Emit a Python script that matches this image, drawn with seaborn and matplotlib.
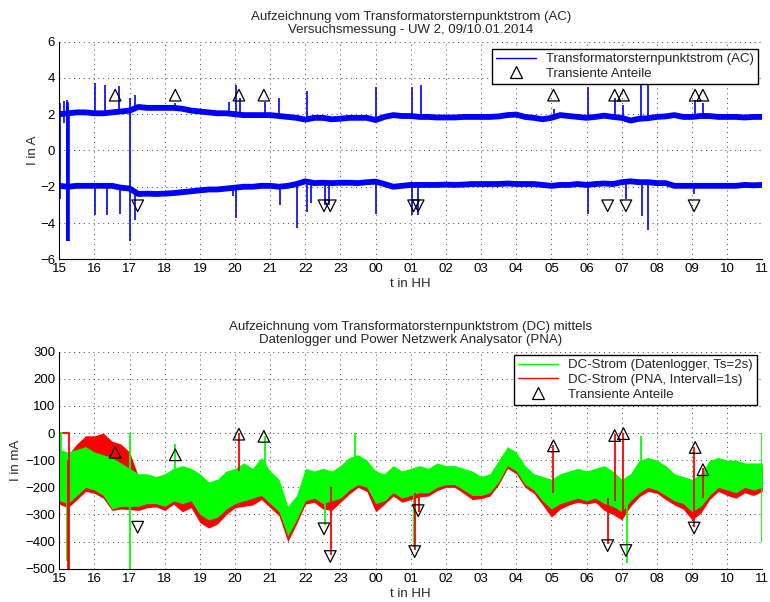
import numpy as np
import pandas as pd
import matplotlib
matplotlib.use("Agg")
import matplotlib.pyplot as plt
from matplotlib.lines import Line2D
import seaborn as sns

# ---------------- data ----------------
t_grid = [15.0 + 0.25 * i for i in range(81)]
hour_ticks = list(range(15, 36))
hour_labels = ["15", "16", "17", "18", "19", "20", "21", "22", "23", "00", "01",
               "02", "03", "04", "05", "06", "07", "08", "09", "10", "11"]

ac_upper = [2.0, 2.05, 2.1, 2.1, 2.05, 2.05, 2.1, 2.15, 2.2, 2.4, 2.35, 2.35, 2.35,
            2.35, 2.3, 2.2, 2.15, 2.1, 2.05, 2.05, 2.0, 1.95, 1.95, 1.95, 1.95, 1.9,
            1.85, 1.8, 1.7, 1.8, 1.8, 1.72, 1.75, 1.8, 1.8, 1.8, 1.68, 1.85, 1.95,
            1.9, 1.9, 1.85, 1.85, 1.82, 1.82, 1.82, 1.85, 1.85, 1.85, 1.85, 1.88,
            1.95, 1.98, 1.85, 1.8, 1.72, 1.8, 1.95, 1.9, 1.85, 1.8, 1.85, 1.92,
            1.85, 1.8, 1.65, 1.75, 1.78, 1.85, 1.88, 1.95, 1.85, 1.85, 1.9, 1.9,
            1.85, 1.85, 1.85, 1.82, 1.85, 1.85]
ac_lower = [-1.95, -2.0, -1.95, -1.95, -1.95, -1.95, -1.95, -2.05, -2.1, -2.4, -2.38,
            -2.4, -2.38, -2.35, -2.3, -2.25, -2.2, -2.15, -2.15, -2.1, -2.05, -2.0,
            -2.0, -1.95, -1.95, -2.0, -1.95, -1.85, -1.7, -1.8, -1.78, -1.8, -1.78,
            -1.78, -1.8, -1.75, -1.72, -1.85, -2.0, -1.95, -1.9, -1.9, -1.9, -1.9,
            -1.88, -1.9, -1.88, -1.85, -1.85, -1.85, -1.85, -1.82, -1.85, -1.85,
            -1.85, -1.9, -1.95, -1.9, -1.9, -1.85, -1.9, -1.85, -1.82, -1.85, -1.75,
            -1.7, -1.75, -1.75, -1.8, -1.8, -1.95, -1.95, -1.95, -1.95, -1.95,
            -1.95, -1.95, -1.95, -1.9, -1.92, -1.9]

ac_spike_t = [15.03, 15.12, 15.21, 15.22, 15.23, 15.24, 15.25, 15.26, 15.27, 16.03,
              16.31, 16.69, 17.0, 17.14, 18.3,
              19.82, 20.04, 20.15, 20.85, 21.24, 22.04, 24.02, 25.04, 25.28, 29.06,
              30.03, 30.8, 31.05, 31.56, 31.75, 33.09, 33.31,
              16.03, 16.35, 16.72, 17.16, 19.95, 20.04, 21.28, 21.76, 22.04, 22.15,
              22.55, 22.68, 24.02, 25.04, 25.2, 30.03, 31.12, 31.58, 31.75, 33.06]
ac_spike_lo = [-2.7, 1.5, -5.0, -5.0, -5.0, -5.0, -5.0, -5.0, -5.0, 2.0,
               2.0, 2.05, -5.0, 2.3, 2.3,
               1.95, 1.9, 1.9, 1.9, 1.9, 1.6, 1.6, 1.8, 1.8, 1.9,
               1.7, 1.85, 1.6, 1.7, 1.7, 1.8, 1.8,
               -3.55, -3.55, -3.5, -3.85, -2.5, -3.7, -3.0, -4.25, -3.4, -2.9,
               -3.0, -3.0, -3.5, -3.55, -3.55, -3.5, -2.7, -3.6, -4.4, -2.4]
ac_spike_hi = [2.6, 2.75, 2.8, 2.6, 2.5, 2.7, 2.4, 2.3, 2.2, 3.7,
               3.6, 3.55, 2.9, 3.05, 2.6,
               2.65, 3.6, 2.9, 2.7, 2.9, 3.3, 3.5, 3.5, 3.6, 2.3,
               3.5, 2.9, 2.5, 3.6, 3.8, 2.8, 2.6,
               -2.0, -2.0, -2.0, -2.3, -2.1, -2.0, -1.95, -1.9, -1.7, -1.8,
               -1.8, -1.8, -1.7, -1.9, -1.9, -1.85, -1.7, -1.75, -1.75, -1.95]

ac_tri_up_t = [16.59, 18.30, 20.11, 20.82, 29.06, 30.80, 31.05, 33.09, 33.31]
ac_tri_up_y = [3.05] * 9
ac_tri_dn_t = [17.23, 22.53, 22.71, 25.08, 25.21, 30.60, 31.12, 33.06]
ac_tri_dn_y = [-3.05] * 8

green_hi = [-60, -70, -60, -50, -70, -80, -90, -110, -130, -150, -150, -160, -150,
            -130, -120, -130, -150, -180, -170, -140, -130, -110, -130, -90, -140,
            -170, -270, -230, -130, -140, -130, -140, -120, -90, -80, -100, -140,
            -150, -120, -140, -130, -120, -130, -110, -120, -120, -130, -140, -160,
            -150, -100, -50, -70, -120, -150, -160, -170, -150, -140, -130, -140,
            -130, -120, -140, -170, -150, -100, -90, -100, -120, -150, -160, -170,
            -150, -100, -90, -100, -100, -110, -110, -110]
green_lo = [-250, -260, -230, -200, -210, -230, -280, -270, -270, -270, -260, -260,
            -270, -250, -260, -250, -300, -320, -310, -280, -260, -250, -240, -230,
            -260, -290, -380, -320, -250, -240, -260, -250, -240, -210, -190, -200,
            -260, -250, -220, -240, -230, -220, -220, -200, -190, -190, -210, -230,
            -230, -220, -180, -120, -140, -190, -210, -250, -280, -260, -250, -240,
            -250, -240, -260, -270, -290, -250, -220, -200, -210, -230, -250, -260,
            -290, -270, -230, -200, -210, -220, -200, -210, -200]
red_hi = [-70, -80, -40, -10, -10, 0, -30, -40, -70, -160, -160, -170, -160,
          -140, -130, -140, -160, -190, -180, -150, -140, -120, -140, -100, -150,
          -180, -280, -240, -140, -150, -140, -150, -130, -100, -90, -110, -150,
          -160, -130, -150, -140, -130, -140, -120, -130, -130, -140, -150, -170,
          -160, -110, -60, -80, -130, -160, -170, -180, -160, -150, -140, -150,
          -140, -130, -150, -180, -160, -110, -100, -110, -130, -160, -170, -180,
          -160, -110, -100, -110, -110, -120, -120, -120]
red_lo = [-262, -275, -245, -215, -222, -240, -285, -280, -282, -285, -275, -272,
          -285, -262, -290, -275, -330, -350, -335, -300, -275, -270, -265, -245,
          -275, -305, -400, -335, -262, -255, -280, -285, -255, -225, -200, -215,
          -290, -262, -232, -255, -245, -235, -232, -212, -200, -200, -222, -245,
          -242, -232, -190, -130, -150, -200, -222, -265, -310, -280, -265, -255,
          -262, -255, -285, -300, -320, -270, -235, -215, -222, -245, -265, -280,
          -320, -295, -245, -215, -230, -240, -220, -230, -215]

red_spike_t = [15.24, 15.27, 20.10, 22.72, 25.12, 25.22, 29.05, 30.60, 30.80, 31.05,
               33.06, 33.30]
red_spike_lo = [-500, -500, -140, -450, -430, -290, -220, -410, -250, -300, -345, -240]
red_spike_hi = [-100, 0, 0, -200, -220, -230, -45, -240, -5, 0, -50, -130]
green_spike_t = [15.05, 15.21, 17.0, 18.3, 20.85, 22.55, 23.4, 25.10, 31.15, 31.55, 35.0]
green_spike_lo = [-250, -470, -500, -160, -200, -340, -140, -420, -480, -200, -400]
green_spike_hi = [0, -100, 0, -40, -10, -200, 0, -200, -250, -10, 0]
red_flat_t = [15.10, 15.27]
red_flat_y = [0, 0]
green_flat_t = [15.0, 15.10]
green_flat_y = [0, 0]

dc_tri_up_t = [16.59, 18.30, 20.11, 20.82, 29.06, 30.80, 31.05, 33.09, 33.31]
dc_tri_up_y = [-71, -80, -4, -12, -47, -9, -2, -53, -135]
dc_tri_dn_t = [17.23, 22.53, 22.71, 25.11, 25.21, 30.60, 31.12, 33.06]
dc_tri_dn_y = [-347, -353, -455, -437, -286, -415, -433, -350]

# ---------------- style ----------------
sns.set_style("white")
plt.rcParams["font.family"] = ["Liberation Sans", "DejaVu Sans"]
plt.rcParams["font.size"] = 9

fig = plt.figure(figsize=(7.7, 6.02), dpi=100)
ax1 = fig.add_axes([0.0770, 0.5693, 0.9130, 0.3615])
ax2 = fig.add_axes([0.0770, 0.0553, 0.9130, 0.3605])

BLUE = "#0000ff"
GREEN = "#00ff00"
RED = "#ff0000"


def style_axis(ax):
    ax.set_xlim(15, 35)
    ax.set_xticks(hour_ticks)
    ax.set_xticklabels(hour_labels)
    for s in ["top", "right"]:
        ax.spines[s].set_visible(False)
    for s in ["left", "bottom"]:
        ax.spines[s].set_color("black")
        ax.spines[s].set_linewidth(0.8)
    ax.tick_params(direction="in", length=5, width=0.8, colors="black",
                   labelsize=9.5, pad=3)
    ax.grid(True, color="0.25", linestyle=(0, (1, 4)), linewidth=0.7)
    ax.set_axisbelow(True)
    ax.set_xlabel("t in HH", fontsize=9.5, labelpad=2)


# ---------------- AC ----------------
sns.lineplot(x=t_grid, y=ac_upper, ax=ax1, color=BLUE, linewidth=4.2)
sns.lineplot(x=t_grid, y=ac_lower, ax=ax1, color=BLUE, linewidth=4.2)
ax1.vlines(ac_spike_t, ac_spike_lo, ac_spike_hi, color=BLUE, linewidth=1.2)
sns.scatterplot(x=ac_tri_up_t, y=ac_tri_up_y, ax=ax1, marker="^", s=70,
                facecolor="none", edgecolor="black", linewidth=0.9, zorder=5)
sns.scatterplot(x=ac_tri_dn_t, y=ac_tri_dn_y, ax=ax1, marker="v", s=70,
                facecolor="none", edgecolor="black", linewidth=0.9, zorder=5)
ax1.set_ylim(-6, 6)
ax1.set_yticks([-6, -4, -2, 0, 2, 4, 6])
style_axis(ax1)
ax1.set_ylabel("I in A", fontsize=9.5, labelpad=1)
ax1.set_title("Aufzeichnung vom Transformatorsternpunktstrom (AC)\n"
              "Versuchsmessung - UW 2, 09/10.01.2014", fontsize=9.5, pad=6,
              linespacing=1.2)
h1 = [Line2D([], [], color=BLUE, lw=1),
      Line2D([], [], color="black", marker="^", ls="none", mfc="none", ms=8, mew=0.9)]
leg1 = ax1.legend(h1, ["Transformatorsternpunktstrom (AC)", "Transiente Anteile"],
                  loc="upper right", bbox_to_anchor=(0.9939, 0.9665), borderaxespad=0,
                  fancybox=False, framealpha=1, edgecolor="black", fontsize=9.5,
                  handlelength=3.0, borderpad=0.3, labelspacing=0.2)
leg1.get_frame().set_linewidth(1.0)

# ---------------- DC ----------------
def band_frame(hi, lo):
    return pd.DataFrame({"t": t_grid + t_grid, "v": list(hi) + list(lo)})

sns.lineplot(data=band_frame(red_hi, red_lo), x="t", y="v", ax=ax2, color=RED,
             linewidth=0, errorbar=("pi", 100), err_kws={"alpha": 1, "linewidth": 0})
sns.lineplot(data=band_frame(green_hi, green_lo), x="t", y="v", ax=ax2, color=GREEN,
             linewidth=0, errorbar=("pi", 100), err_kws={"alpha": 1, "linewidth": 0})
ax2.vlines(green_spike_t, green_spike_lo, green_spike_hi, color=GREEN, linewidth=1.3)
ax2.vlines(red_spike_t, red_spike_lo, red_spike_hi, color=RED, linewidth=1.3)
ax2.plot(green_flat_t, green_flat_y, color=GREEN, lw=1.3)
ax2.plot(red_flat_t, red_flat_y, color=RED, lw=1.3)
sns.scatterplot(x=dc_tri_up_t, y=dc_tri_up_y, ax=ax2, marker="^", s=70,
                facecolor="none", edgecolor="black", linewidth=0.9, zorder=5)
sns.scatterplot(x=dc_tri_dn_t, y=dc_tri_dn_y, ax=ax2, marker="v", s=70,
                facecolor="none", edgecolor="black", linewidth=0.9, zorder=5)
ax2.set_ylim(-500, 300)
ax2.set_yticks(list(range(-500, 301, 100)))
style_axis(ax2)
ax2.set_ylabel("I in mA", fontsize=9.5, labelpad=2)
ax2.set_title("Aufzeichnung vom Transformatorsternpunktstrom (DC) mittels\n"
              "Datenlogger und Power Netzwerk Analysator (PNA)", fontsize=9.5, pad=6,
              linespacing=1.2)
h2 = [Line2D([], [], color=GREEN, lw=1),
      Line2D([], [], color=RED, lw=1),
      Line2D([], [], color="black", marker="^", ls="none", mfc="none", ms=8, mew=0.9)]
leg2 = ax2.legend(h2, ["DC-Strom (Datenlogger, Ts=2s)", "DC-Strom (PNA, Intervall=1s)",
                       "Transiente Anteile"],
                  loc="upper right", bbox_to_anchor=(0.9925, 0.985), borderaxespad=0,
                  fancybox=False, framealpha=1, edgecolor="black", fontsize=9.5,
                  handlelength=3.0, borderpad=0.3, labelspacing=0.2)
leg2.get_frame().set_linewidth(1.0)

fig.savefig("out.png", dpi=100)
